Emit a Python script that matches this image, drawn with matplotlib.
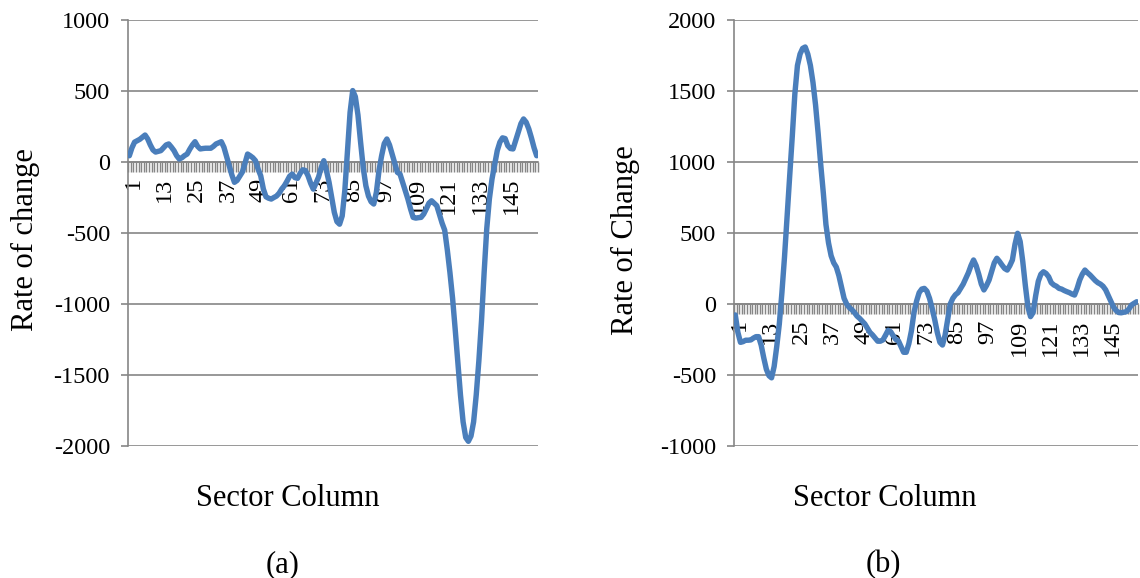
import matplotlib
matplotlib.use("Agg")
import matplotlib.pyplot as plt
import matplotlib.transforms as mtransforms
from matplotlib.ticker import FixedLocator, MultipleLocator

plt.rcParams['font.family'] = ['Liberation Serif', 'DejaVu Serif']
plt.rcParams['axes.unicode_minus'] = False

# Sector columns 1..156
columns = list(range(1, 157))
tick_labels = [str(c) for c in range(1, 157, 12)]

# (a) rate of change per sector column
rate_a = [
    44, 100, 140, 150, 160, 175, 190, 162, 120, 85,
    70, 75, 80, 100, 120, 127, 105, 80, 45, 21,
    30, 45, 56, 90, 120, 143, 110, 92, 95, 97,
    97, 97, 110, 127, 135, 143, 104, 40, -26, -90,
    -143, -130, -100, -71, -10, 56, 44, 30, 9, -50,
    -97, -190, -245, -255, -261, -250, -240, -220, -190, -167,
    -135, -100, -85, -110, -115, -80, -55, -60, -97, -150,
    -191, -150, -106, -40, 9, -60, -143, -250, -355, -420,
    -438, -380, -200, 80, 350, 503, 460, 330, 139, -40,
    -167, -240, -280, -296, -214, -60, 44, 130, 162, 120,
    56, -10, -73, -85, -143, -200, -261, -330, -390, -395,
    -392, -390, -367, -330, -290, -273, -290, -308, -370, -430,
    -480, -620, -780, -960, -1180, -1410, -1640, -1830, -1940, -1967,
    -1930, -1830, -1640, -1400, -1120, -780, -470, -260, -120, -20,
    80, 140, 170, 165, 115, 95, 92, 150, 210, 270,
    303, 280, 233, 170, 100, 44,
]

# (b) rate of change per sector column
rate_b = [
    -77, -200, -270, -265, -255, -255, -253, -240, -230, -230,
    -290, -380, -460, -505, -520, -440, -300, -140, 80, 330,
    620, 900, 1180, 1480, 1680, 1760, 1800, 1810, 1760, 1680,
    1560, 1400, 1200, 980, 780, 560, 430, 340, 290, 260,
    200, 120, 40, 0, -25, -40, -60, -85, -101, -120,
    -140, -170, -200, -218, -240, -262, -262, -253, -220, -185,
    -195, -225, -250, -260, -300, -340, -340, -280, -190, -60,
    20, 80, 105, 110, 90, 40, -30, -110, -200, -270,
    -289, -220, -110, 0, 40, 65, 80, 110, 140, 180,
    220, 270, 310, 270, 210, 140, 99, 130, 169, 230,
    290, 322, 300, 274, 250, 239, 270, 310, 420, 498,
    440, 300, 130, -20, -89, -60, 60, 160, 210, 227,
    215, 192, 150, 134, 125, 110, 105, 95, 87, 80,
    70, 63, 110, 169, 210, 239, 220, 204, 185, 165,
    150, 140, 125, 100, 60, 20, -20, -45, -60, -62,
    -58, -54, -35, -7, 5, 16,
]

LINE = '#4A7EBB'
GRAY = '#868686'

W, H = 1140, 578
fig = plt.figure(figsize=(W / 100, H / 100), dpi=100)


def px_box(x0, x1, ytop, ybot):
    return [x0 / W, 1 - ybot / H, (x1 - x0) / W, (ybot - ytop) / H]


def draw_panel(rect, values, ylim, ylabel, ylabel_x, title_x, caption, caption_x):
    ax = fig.add_axes(rect)
    ax.plot(columns, values, color=LINE, lw=3.9, solid_capstyle='round',
            solid_joinstyle='round', zorder=3)
    ax.set_xlim(0.5, len(columns) + 0.5)
    ax.set_ylim(*ylim)
    ax.yaxis.set_major_locator(MultipleLocator(500))
    ax.grid(axis='y', color=GRAY, lw=1.2, zorder=0)
    ax.set_axisbelow(True)

    for s in ('top', 'right'):
        ax.spines[s].set_visible(False)
    ax.spines['left'].set_color(GRAY)
    ax.spines['left'].set_linewidth(1.2)
    ax.spines['bottom'].set_position(('data', 0))
    ax.spines['bottom'].set_color(GRAY)
    ax.spines['bottom'].set_linewidth(1.2)

    ax.tick_params(axis='y', direction='out', length=5, width=1.2, color=GRAY,
                   labelsize=17.5, pad=8)
    ax.xaxis.set_major_locator(FixedLocator(list(range(1, len(columns) + 1, 12))))
    ax.set_xticklabels(tick_labels, rotation=90, fontsize=17.5)
    ax.xaxis.set_minor_locator(FixedLocator([c + 0.5 for c in range(0, len(columns) + 1)]))
    ax.tick_params(axis='x', which='major', length=0, pad=11)
    ax.tick_params(axis='x', which='minor', direction='out', length=7,
                   width=1.05, color=GRAY)
    shift = mtransforms.ScaledTranslation(4 / 100, 0, fig.dpi_scale_trans)
    for lbl in ax.get_xticklabels():
        lbl.set_va('top')
        lbl.set_transform(lbl.get_transform() + shift)

    fig.text(ylabel_x / W, 1 - 240 / H, ylabel, rotation=90, ha='center',
             va='center', fontsize=22)
    fig.text(title_x / W, 1 - 498 / H, 'Sector Column', ha='center',
             va='center', fontsize=22)
    fig.text(caption_x / W, 1 - 565 / H, caption, ha='center', va='center',
             fontsize=22)
    return ax


draw_panel(px_box(128, 538, 20, 446), rate_a, (-2000, 1000), 'Rate of change',
           25, 288, '(a)', 283)
draw_panel(px_box(734, 1138, 20, 446), rate_b, (-1000, 2000), 'Rate of Change',
           625, 885, '(b)', 883)

fig.savefig('out.png', dpi=100, facecolor='white')
